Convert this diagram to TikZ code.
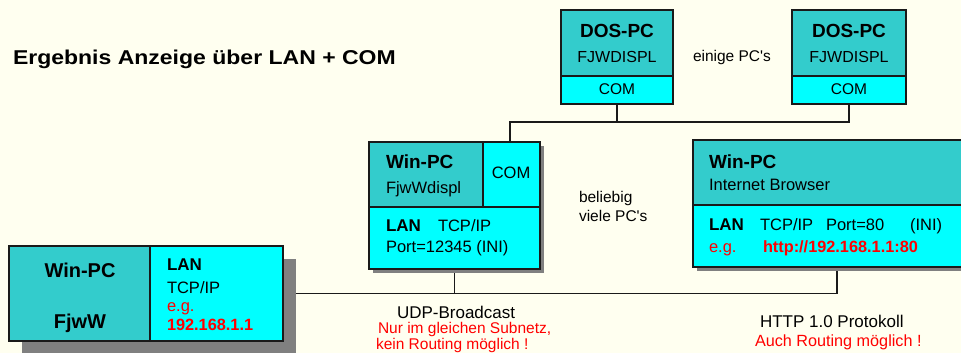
\documentclass[tikz,border=0pt]{standalone}
\usepackage{fontspec}
\setmainfont{Liberation Sans}
\newfontfamily\titlefont[FakeStretch=1.15]{Liberation Sans}
\usetikzlibrary{shadows}
\definecolor{bgc}{HTML}{FFFFF0}
\definecolor{tealc}{HTML}{33CCCC}
\definecolor{cyanc}{HTML}{00FFFF}
\definecolor{redc}{HTML}{FF0000}
\definecolor{shadowc}{HTML}{808080}
\definecolor{linec}{HTML}{1A1A1A}
\pgfdeclarelayer{background}
\pgfsetlayers{background,main}
\tikzset{
  part/.style={draw=linec, line width=1.2pt, rectangle, inner sep=0pt, outer sep=0pt, anchor=north west},
  tpart/.style={part, fill=tealc},
  cpart/.style={part, fill=cyanc},
  bigshadow/.style={drop shadow={shadow xshift=13pt, shadow yshift=-13pt, fill=shadowc, opacity=1}},
  smallshadow/.style={drop shadow={shadow xshift=4pt, shadow yshift=-4pt, fill=shadowc, opacity=1}},
  conn/.style={draw=linec, line width=1.1pt},
  txt/.style={inner sep=0pt, outer sep=0pt, anchor=base west, text=black},
  lbl/.style={txt, font=\fontsize{16.5}{18}\selectfont},
  slbl/.style={txt, font=\fontsize{15.5}{18}\selectfont},
  blbl/.style={txt, font=\fontsize{19}{21}\selectfont\bfseries},
  mlbl/.style={txt, font=\fontsize{17}{19}\selectfont\bfseries},
  redl/.style={txt, text=redc, font=\fontsize{16.5}{18}\selectfont},
  redb/.style={txt, text=redc, font=\fontsize{16.3}{18}\selectfont\bfseries},
  reds/.style={txt, text=redc, font=\fontsize{15.5}{18}\selectfont},
}
\begin{document}
\begin{tikzpicture}[x=1pt, y=-1pt]
\useasboundingbox (0,0) rectangle (961,353);
\begin{pgfonlayer}{background}
\fill[bgc] (0,0) rectangle (961,353);
\end{pgfonlayer}

% title
\node[txt, font=\titlefont\fontsize{20}{22}\selectfont\bfseries] (title) at (13,65) {Ergebnis Anzeige über LAN + COM};

% left Win-PC box
\node[part, bigshadow, fill=cyanc, minimum width=274pt, minimum height=95pt] (lbox) at (9,246) {};
\node[tpart, minimum width=141pt, minimum height=95pt] (lleft) at (9,246) {};
\node[cpart, minimum width=133pt, minimum height=95pt] (lright) at (150,246) {};
\node[blbl, anchor=base, font=\fontsize{20}{22}\selectfont\bfseries] (lt1) at (80,277) {Win-PC};
\node[blbl, anchor=base, font=\fontsize{20}{22}\selectfont\bfseries] (lt2) at (80,328) {FjwW};
\node[mlbl] (lt3) at (167,270) {LAN};
\node[lbl] (lt4) at (167,293) {TCP/IP};
\node[redl] (lt5) at (167,311) {e.g.};
\node[redb] (lt6) at (167,330) {192.168.1.1};

% middle Win-PC box
\node[part, smallshadow, fill=cyanc, minimum width=171pt, minimum height=127pt] (mbox) at (369,142) {};
\node[tpart, minimum width=114pt, minimum height=65pt] (mtl) at (369,142) {};
\node[cpart, minimum width=57pt, minimum height=65pt] (mtr) at (483,142) {};
\node[cpart, minimum width=171pt, minimum height=62pt] (mbot) at (369,207) {};
\node[blbl] (mt1) at (386,168) {Win-PC};
\node[lbl] (mt2) at (386,193) {FjwWdispl};
\node[lbl, anchor=base] (mt3) at (511,178) {COM};
\node[mlbl] (mt4) at (386,231) {LAN};
\node[lbl] (mt5) at (438,231) {TCP/IP};
\node[lbl] (mt6) at (386,252) {Port=12345 (INI)};
\node[slbl] (bel1) at (579,202) {beliebig};
\node[slbl] (bel2) at (579,221) {viele PC\textquotesingle s};

% right Win-PC box
\node[part, smallshadow, fill=cyanc, minimum width=280pt, minimum height=127pt] (rbox) at (693,140) {};
\node[tpart, minimum width=280pt, minimum height=65pt] (rtop) at (693,140) {};
\node[cpart, minimum width=280pt, minimum height=62pt] (rbot) at (693,205) {};
\node[blbl] (rt1) at (709,168) {Win-PC};
\node[lbl] (rt2) at (709,190) {Internet Browser};
\node[mlbl] (rt3) at (709,230) {LAN};
\node[lbl] (rt4) at (760,230) {TCP/IP};
\node[lbl] (rt5) at (826,230) {Port=80};
\node[lbl] (rt6) at (910,230) {(INI)};
\node[redl] (rt7) at (709,252) {e.g.};
\node[redb] (rt8) at (763,252) {http://192.168.1.1:80};

% DOS-PC boxes
\node[tpart, minimum width=112pt, minimum height=66pt] (d1top) at (561,10) {};
\node[cpart, minimum width=112pt, minimum height=28pt] (d1bot) at (561,76) {};
\node[blbl, anchor=base] (d1t1) at (617,38) {DOS-PC};
\node[lbl, anchor=base, font=\fontsize{16}{18}\selectfont] (d1t2) at (617,63) {FJWDISPL};
\node[slbl, anchor=base] (d1t3) at (617,95) {COM};
\node[tpart, minimum width=114pt, minimum height=66pt] (d2top) at (792,10) {};
\node[cpart, minimum width=114pt, minimum height=28pt] (d2bot) at (792,76) {};
\node[blbl, anchor=base] (d2t1) at (849,38) {DOS-PC};
\node[lbl, anchor=base, font=\fontsize{16}{18}\selectfont] (d2t2) at (849,63) {FJWDISPL};
\node[slbl, anchor=base] (d2t3) at (849,95) {COM};
\node[slbl] (einige) at (693,62) {einige PC\textquotesingle s};

% bottom labels
\node[lbl, font=\fontsize{17}{19}\selectfont] (udp) at (397,318) {UDP-Broadcast};
\node[reds] (udp2) at (378,333) {Nur im gleichen Subnetz,};
\node[reds] (udp3) at (376,349) {kein Routing möglich !};
\node[lbl, font=\fontsize{17}{19}\selectfont] (http) at (760,327) {HTTP 1.0 Protokoll};
\node[redl, font=\fontsize{16.2}{18}\selectfont] (http2) at (755,346) {Auch Routing möglich !};

% connectors
\coordinate (busR) at (837,293.5);
\coordinate (topL) at (510,122);
\begin{pgfonlayer}{background}
\draw[conn] (lbox.east) -- (busR) -- (busR |- rbox.south);
\draw[conn] (mbox.south) -- (mbox.south |- busR);
\draw[conn] (topL |- mbox.north) -- (topL) -| (d2bot.south);
\draw[conn] (d1bot.south) -- (d1bot.south |- topL);
\end{pgfonlayer}
\end{tikzpicture}
\end{document}
